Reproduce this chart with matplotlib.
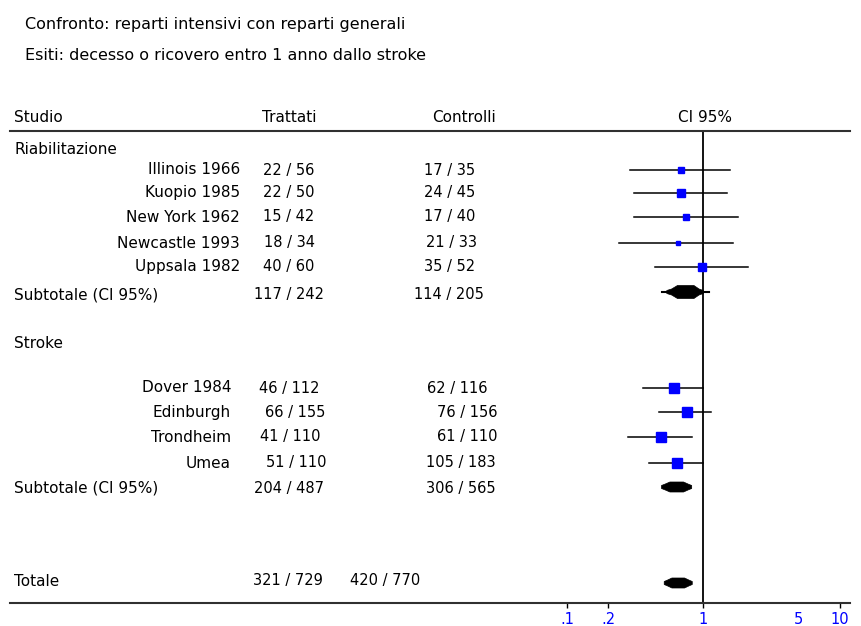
import numpy as np
import matplotlib
matplotlib.use("Agg")
import matplotlib.pyplot as plt
from matplotlib.patches import Polygon
from matplotlib.ticker import NullLocator


TITLE_1 = "Confronto: reparti intensivi con reparti generali"
TITLE_2 = "Esiti: decesso o ricovero entro 1 anno dallo stroke"

# gruppo Riabilitazione
rehab_names = ["Illinois 1966", "Kuopio 1985", "New York 1962", "Newcastle 1993", "Uppsala 1982"]
rehab_trt_ev = [22, 22, 15, 18, 40]
rehab_trt_n = [56, 50, 42, 34, 60]
rehab_ctl_ev = [17, 24, 17, 21, 35]
rehab_ctl_n = [35, 45, 40, 33, 52]
rehab_or = [0.69, 0.69, 0.75, 0.65, 0.98]
rehab_lo = [0.29, 0.31, 0.31, 0.24, 0.44]
rehab_hi = [1.57, 1.49, 1.80, 1.66, 2.12]
rehab_weight = [5.3, 8.0, 5.3, 4.7, 8.0]

# gruppo Stroke
stroke_names = ["Dover 1984", "Edinburgh", "Trondheim", "Umea"]
stroke_trt_ev = [46, 66, 41, 51]
stroke_trt_n = [112, 155, 110, 110]
stroke_ctl_ev = [62, 76, 61, 105]
stroke_ctl_n = [116, 156, 110, 183]
stroke_or = [0.61, 0.76, 0.49, 0.64]
stroke_lo = [0.36, 0.47, 0.28, 0.40]
stroke_hi = [1.00, 1.13, 0.82, 1.00]
stroke_weight = [10.0, 10.0, 10.0, 9.7]

# subtotali e totale: (eventi, n)
sub_labels = ["Subtotale (CI 95%)", "Subtotale (CI 95%)", "Totale"]
sub_trt = [(117, 242), (204, 487), (321, 729)]
sub_ctl = [(114, 205), (306, 565), (420, 770)]
sub_or = [0.75, 0.64, 0.655]
sub_lo = [0.494, 0.494, 0.517]
sub_hi = [1.107, 0.822, 0.830]

tick_vals = [0.1, 0.2, 1, 5, 10]
tick_labels = [".1", ".2", "1", "5", "10"]

# layout (pixel dall'alto)
W, H = 861, 626
rehab_rows = [170, 193, 217, 243, 267]
stroke_rows = [388, 412, 437, 463]
sub_rows = [292, 487, 583]
sub_text_rows = [295, 488, 581]
rehab_name_x, stroke_name_x = 240, 231
rehab_trt_x = [289, 289, 289, 289, 289]
rehab_ctl_x = [450, 450, 450, 451, 450]
stroke_trt_x = [289, 295, 290, 296]
stroke_ctl_x = [457, 467, 467, 461]
sub_trt_x = [289, 289, 288]
sub_ctl_x = [449, 461, 385]
AX_TOP, AX_BOT, AX_LEFT, AX_RIGHT = 131, 603, 10, 850
PX_ONE, PX_DECADE = 703.3, 136.4
FS_TITLE, FS_WORD, FS_NAME, FS_NUM = 11.5, 11, 11, 10.5


def fmt(ev, n):
    return f"{ev} / {n}"


def lens(ax, lo, c, hi, y, h):
    """Disegna il rombo del risultato cumulativo"""
    l_lo, l_c, l_hi = np.log10([lo, c, hi])
    ts = [-1, -0.75, -0.45, 0, 0.45, 0.75, 1]
    hs = [1.5, 3.0, h, h, h, 3.0, 1.5]
    top, bot = [], []
    for t, hh in zip(ts, hs):
        lx = l_c + t * (l_c - l_lo) if t < 0 else l_c + t * (l_hi - l_c)
        top.append((10 ** lx, y - hh))
        bot.append((10 ** lx, y + hh))
    pts = top + bot[::-1]
    ax.add_patch(Polygon(pts, closed=True, facecolor="black", edgecolor="black", lw=0.5))


def main():
    fig = plt.figure(figsize=(W / 100, H / 100), dpi=100)
    fig.patch.set_facecolor("white")

    tab = fig.add_axes([0, 0, 1, 1])
    tab.set_xlim(0, W)
    tab.set_ylim(H, 0)
    tab.axis("off")

    ax = fig.add_axes([AX_LEFT / W, (H - AX_BOT) / H, (AX_RIGHT - AX_LEFT) / W, (AX_BOT - AX_TOP) / H])
    ax.patch.set_alpha(0)
    ax.set_xscale("log")
    xmin = 10 ** ((AX_LEFT - PX_ONE) / PX_DECADE)
    xmax = 10 ** ((AX_RIGHT - PX_ONE) / PX_DECADE)
    ax.set_xlim(xmin, xmax)
    ax.set_ylim(AX_BOT, AX_TOP)
    for s in ["left", "right"]:
        ax.spines[s].set_visible(False)
    for s in ["top", "bottom"]:
        ax.spines[s].set_color("#303030")
        ax.spines[s].set_linewidth(1.5)
    ax.set_yticks([])
    ax.set_xticks(tick_vals)
    ax.set_xticklabels(tick_labels)
    ax.xaxis.set_minor_locator(NullLocator())
    ax.tick_params(axis="x", direction="out", length=3.6, width=1, pad=3,
                   labelcolor="blue", labelsize=FS_NUM, color="black")
    ax.xaxis.get_major_ticks()[3].tick1line.set_visible(False)
    ax.axvline(1, color="black", lw=1.3, zorder=1)

    # titoli
    tab.text(25, 25, TITLE_1, fontsize=FS_TITLE, va="center")
    tab.text(25, 56, TITLE_2, fontsize=FS_TITLE, va="center")

    # intestazione
    hy = 118
    tab.text(14, hy, "Studio", fontsize=FS_WORD, va="center")
    tab.text(289, hy, "Trattati", fontsize=FS_WORD, va="center", ha="center")
    tab.text(464, hy, "Controlli", fontsize=FS_WORD, va="center", ha="center")
    tab.text(705, hy, "CI 95%", fontsize=FS_WORD, va="center", ha="center")

    tab.text(14, 150, "Riabilitazione", fontsize=FS_WORD, va="center")
    tab.text(14, 343, "Stroke", fontsize=FS_WORD, va="center")

    groups = [
        (rehab_names, rehab_trt_ev, rehab_trt_n, rehab_ctl_ev, rehab_ctl_n,
         rehab_or, rehab_lo, rehab_hi, rehab_weight, rehab_rows,
         rehab_name_x, rehab_trt_x, rehab_ctl_x),
        (stroke_names, stroke_trt_ev, stroke_trt_n, stroke_ctl_ev, stroke_ctl_n,
         stroke_or, stroke_lo, stroke_hi, stroke_weight, stroke_rows,
         stroke_name_x, stroke_trt_x, stroke_ctl_x),
    ]
    for names, te, tn, ce, cn, orr, lo, hi, wt, rows, nx, tx, cx in groups:
        for i, y in enumerate(rows):
            tab.text(nx, y, names[i], fontsize=FS_NAME, va="center", ha="right")
            tab.text(tx[i], y, fmt(te[i], tn[i]), fontsize=FS_NUM, va="center", ha="center")
            tab.text(cx[i], y, fmt(ce[i], cn[i]), fontsize=FS_NUM, va="center", ha="center")
            ax.plot([lo[i], hi[i]], [y, y], color="black", lw=1.1, zorder=2)
            ax.plot(orr[i], y, marker="s", ms=wt[i] * 0.72, color="blue", mec="blue", zorder=3)

    for i, y in enumerate(sub_rows):
        ty = sub_text_rows[i]
        tab.text(14, ty, sub_labels[i], fontsize=FS_WORD, va="center")
        tab.text(sub_trt_x[i], ty, fmt(*sub_trt[i]), fontsize=FS_NUM, va="center", ha="center")
        tab.text(sub_ctl_x[i], ty, fmt(*sub_ctl[i]), fontsize=FS_NUM, va="center", ha="center")
        if i == 0:
            ax.plot([sub_lo[i], sub_hi[i]], [y, y], color="black", lw=1.5, zorder=2)
            lens(ax, 0.54, sub_or[i], 1.0, y, 6.5)
        else:
            lens(ax, sub_lo[i], sub_or[i], sub_hi[i], y, 5)

    fig.savefig("out.png", dpi=100)


if __name__ == "__main__":
    main()
